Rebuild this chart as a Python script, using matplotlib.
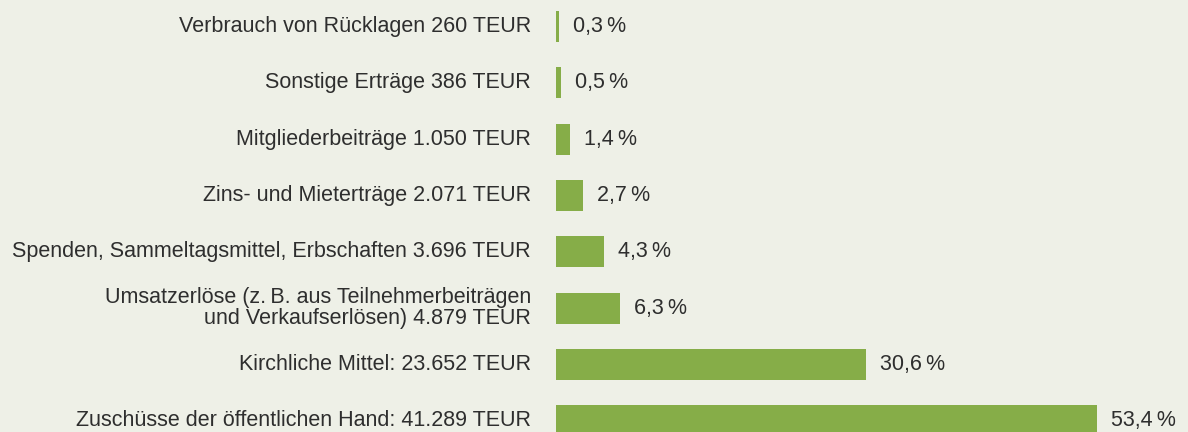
import matplotlib.pyplot as plt
import matplotlib.transforms as mtransforms

plt.rcParams['font.family'] = ['Liberation Sans', 'DejaVu Sans']

# Daten (von oben nach unten)
labels = [
    'Verbrauch von Rücklagen 260 TEUR',
    'Sonstige Erträge 386 TEUR',
    'Mitgliederbeiträge 1.050 TEUR',
    'Zins- und Mieterträge 2.071 TEUR',
    'Spenden, Sammeltagsmittel, Erbschaften 3.696 TEUR',
    'Umsatzerlöse (z.\u2009B. aus Teilnehmerbeiträgen\nund Verkaufserlösen) 4.879 TEUR',
    'Kirchliche Mittel: 23.652 TEUR',
    'Zuschüsse der öffentlichen Hand: 41.289 TEUR',
]
teur = [260, 386, 1050, 2071, 3696, 4879, 23652, 41289]
pct_labels = ['0,3', '0,5', '1,4', '2,7', '4,3', '6,3', '30,6', '53,4']

BG = '#eef0e7'
GREEN = '#86ad48'
TEXT = '#2e2e2e'

fig = plt.figure(figsize=(11.88, 4.32), dpi=100)
fig.patch.set_facecolor(BG)

x0 = 556 / 1188
ax = fig.add_axes([x0, 0, 1 - x0, 1])
ax.set_facecolor(BG)

ypos = list(range(len(teur)))
ax.barh(ypos, teur, height=0.55, color=GREEN, left=0)

ax.set_xlim(0, 48200)
ax.set_ylim(7.2, -0.47)
ax.axis('off')

# Prozentwerte rechts neben den Balken
off = mtransforms.offset_copy(ax.transData, fig=fig, x=14, y=0, units='dots')
for y, v, p in zip(ypos, teur, pct_labels):
    ax.text(v, y, p + '\u2009%', transform=off, ha='left', va='center',
            fontsize=15.5, color=TEXT)

# Beschriftungen links
lab_tr = mtransforms.blended_transform_factory(ax.transAxes, ax.transData)
lab_tr = lab_tr + mtransforms.ScaledTranslation(-25 / 100, 0, fig.dpi_scale_trans)
for y, lab in zip(ypos, labels):
    ax.text(0, y, lab, transform=lab_tr, ha='right', va='center',
            multialignment='right', fontsize=15.5, color=TEXT, linespacing=1.0,
            clip_on=False)

fig.savefig('out.png', dpi=100, facecolor=BG)
